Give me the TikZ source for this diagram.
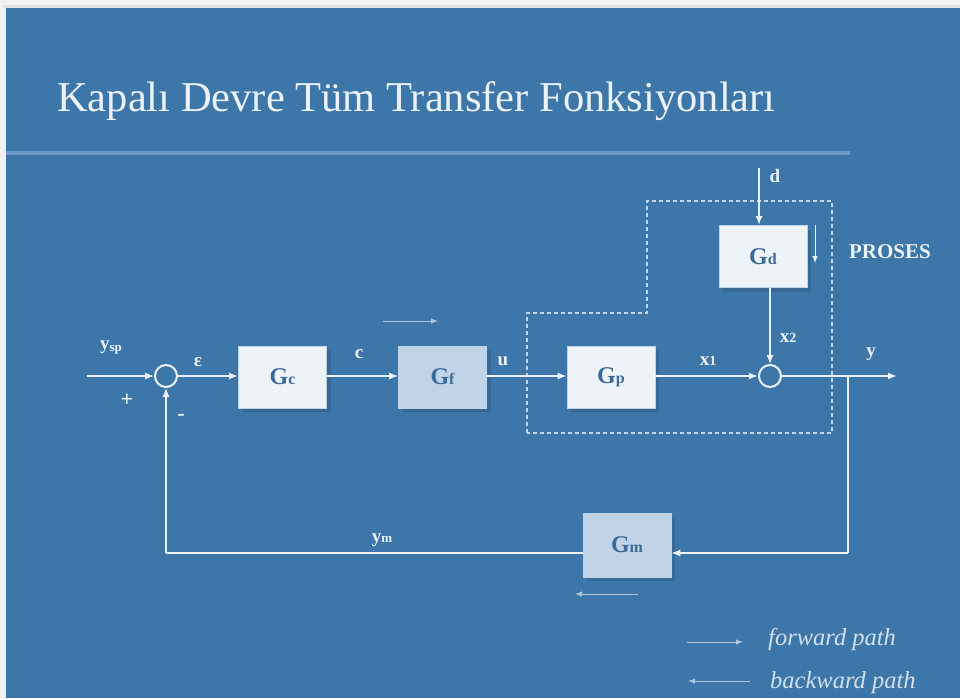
\documentclass[tikz,border=0pt]{standalone}
\usepackage{fontspec}
\setmainfont{Liberation Serif}
\usetikzlibrary{arrows.meta,shadows}

\definecolor{paper}{RGB}{242,242,242}
\definecolor{paperedge}{RGB}{226,226,226}
\definecolor{slide}{RGB}{61,118,168}
\definecolor{ink}{RGB}{236,242,248}
\definecolor{boxlight}{RGB}{238,243,248}
\definecolor{boxblue}{RGB}{193,212,231}
\definecolor{labelblue}{RGB}{58,106,154}
\definecolor{rulecol}{RGB}{106,153,199}
\definecolor{dashcol}{RGB}{196,213,231}

\newcommand\gname[1]{{\fontsize{24}{24}\selectfont\bfseries G}{\fontsize{16}{16}\selectfont\bfseries #1}}

\tikzset{
  blk/.style={draw=ink!75!slide, line width=0.8pt, minimum width=88pt, minimum height=62pt,
    inner sep=0pt, text=labelblue,
    drop shadow={shadow xshift=4pt, shadow yshift=-4pt, fill=black, opacity=0.10}},
  lightblk/.style={blk, fill=boxlight},
  blueblk/.style={blk, fill=boxblue},
  sumjn/.style={circle, draw=ink, line width=2pt, minimum size=22pt, inner sep=0pt},
  sig/.style={draw=ink, line width=1.2pt, -{Latex[length=9pt,width=7pt]}},
  sigbold/.style={sig, line width=2.2pt},
  wire/.style={draw=ink, line width=1.2pt},
  lbl/.style={text=ink, font=\fontsize{19}{19}\selectfont\bfseries, inner sep=0pt},
  hint/.style={draw=ink!65!slide, line width=1pt, -{Latex[length=7pt,width=5.5pt]}},
  legendtxt/.style={text=ink!85!slide, font=\fontsize{24.5}{24.5}\selectfont\itshape,
    anchor=base west, inner sep=0pt},
  procbound/.style={draw=dashcol, line width=1.3pt, dash pattern=on 4pt off 3pt},
}

\begin{document}
\begin{tikzpicture}[x=1pt, y=-1pt]
  \useasboundingbox (0,0) rectangle (960,698);
  % slide background
  \fill[paper] (0,0) rectangle (960,698);
  \fill[paperedge] (3,5) rectangle (960,8);
  \fill[slide] (6,8) rectangle (960,698);

  % title and rule
  \node[anchor=base west, inner sep=0pt, text=ink, font=\fontsize{42.5}{42.5}\selectfont]
    (title) at (57,112) {Kapalı Devre Tüm Transfer Fonksiyonları};
  \fill[rulecol] (6,150.5) rectangle (850,154.5);

  % process boundary
  \draw[procbound] (527,433) -- (527,313) -- (647,313) -- (647,201) -- (832,201)
    -- (832,433) -- cycle;

  % blocks
  \node[lightblk] (Gc) at (282.5,377) {\gname{c}};
  \node[blueblk]  (Gf) at (442.5,377) {\gname{f}};
  \node[lightblk] (Gp) at (611,377)   {\gname{p}};
  \node[lightblk] (Gd) at (763,256.5) {\gname{d}};
  \node[blueblk, minimum height=64pt] (Gm) at (627,545) {\gname{m}};

  % summing junctions
  \node[sumjn] (S1) at (166,376) {};
  \node[sumjn] (S2) at (770,376) {};

  % free ends
  \coordinate (ysp) at (87,376);
  \coordinate (yout) at (897,376);
  \coordinate (din) at (759,168);
  \coordinate (tap) at (848,376);
  \coordinate (tapdown) at (848,553);
  \coordinate (fbcorner) at (S1 |- tapdown);

  % forward path
  \draw[sig] (ysp) -- (S1.west);
  \draw[sigbold] (S1.east) -- (Gc.west |- S1);
  \draw[sig] (Gc.east |- S1) -- (Gf.west |- S1);
  \draw[sig] (Gf.east |- S1) -- (Gp.west |- S1);
  \draw[sigbold] (Gp.east |- S1) -- (S2.west);
  \draw[sigbold] (S2.east) -- (yout);

  % disturbance path
  \draw[sigbold] (din) -- (din |- Gd.north);
  \draw[sig] (S2 |- Gd.south) -- (S2.north);

  % measurement feedback
  \draw[wire] (tap) -- (tapdown);
  \draw[sig] (tapdown) -- ([yshift=-8pt]Gm.east);
  \draw[wire] ([yshift=-8pt]Gm.west) -- (fbcorner);
  \draw[sig] (fbcorner) -- (S1.south);

  % signal labels
  \node[lbl] (lysp) at (111,348) {y{\fontsize{13}{13}\selectfont\raisebox{-2pt}{sp}}};
  \node[lbl, font=\fontsize{22}{22}\selectfont\bfseries] (lplus) at (127,400) {+};
  \node[lbl, font=\fontsize{22}{22}\selectfont\bfseries] (lminus) at (181,417) {-};
  \node[lbl] (leps) at (198,362) {ε};
  \node[lbl] (lc) at (359,354) {c};
  \node[lbl] (lu) at (503,361) {u};
  \node[lbl] (lx1) at (708,361) {x{\fontsize{14}{14}\selectfont 1}};
  \node[lbl] (lx2) at (788,338) {x{\fontsize{14}{14}\selectfont 2}};
  \node[lbl] (ly) at (871,354) {y};
  \node[lbl] (ld) at (775,176) {d};
  \node[lbl, font=\fontsize{21}{21}\selectfont\bfseries] (lproc) at (890,252) {PROSES};
  \node[lbl] (lym) at (382,540) {y{\fontsize{13}{13}\selectfont m}};

  % direction hints
  \coordinate (fh1) at (383,321); \coordinate (fh2) at (438,321);
  \coordinate (dh1) at (815,225); \coordinate (dh2) at (815,263);
  \coordinate (bh1) at (638,594); \coordinate (bh2) at (575,594);
  \draw[hint] (fh1) -- (fh2);
  \draw[hint, draw=ink] (dh1) -- (dh2);
  \draw[hint] (bh1) -- (bh2);

  % legend
  \coordinate (lf1) at (687,642); \coordinate (lf2) at (743,642);
  \coordinate (lb1) at (750,681); \coordinate (lb2) at (688,681);
  \draw[hint] (lf1) -- (lf2);
  \draw[hint] (lb1) -- (lb2);
  \node[legendtxt] (lfwd) at (768,645) {forward path};
  \node[legendtxt] (lbwd) at (770,688) {backward path};
\end{tikzpicture}
\end{document}
